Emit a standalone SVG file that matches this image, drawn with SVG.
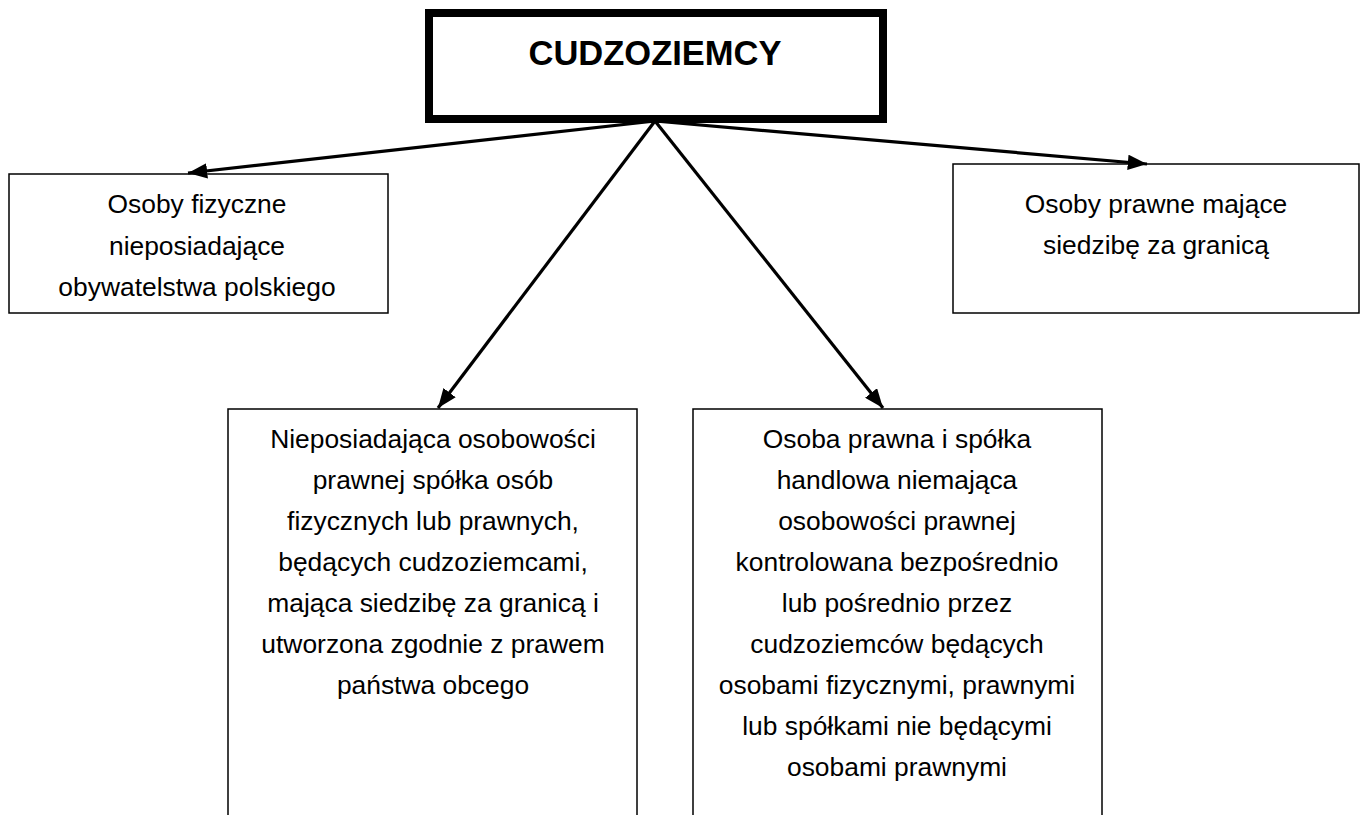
<svg xmlns="http://www.w3.org/2000/svg" width="1365" height="815" viewBox="0 0 1365 815">
<style>
.box{fill:#fff;stroke:#000;stroke-width:1.5}
.title{fill:#fff;stroke:#000;stroke-width:8}
.t{font-family:"Liberation Sans",Arial,sans-serif;font-size:26.4px;fill:#000;text-anchor:middle}
.h{font-family:"Liberation Sans",Arial,sans-serif;font-size:34.5px;font-weight:bold;fill:#000;text-anchor:middle}
.c{stroke:#000;stroke-width:3.2;fill:none;marker-end:url(#ah)}
</style>
<defs>
<marker id="ah" viewBox="0 0 10 8" refX="10" refY="4" markerWidth="6" markerHeight="4.8" orient="auto">
<path d="M0,0 L10,4 L0,8 z" fill="#000"/>
</marker>
</defs>
<rect width="1365" height="815" fill="#fff"/>
<g id="n-root">
<rect class="title" x="429" y="13" width="454" height="106"/>
<text class="h" x="655" y="65">CUDZOZIEMCY</text>
</g>
<g id="n-fizyczne">
<rect class="box" x="9" y="174" width="379" height="139"/>
<text class="t" x="197" y="213">Osoby fizyczne</text>
<text class="t" x="197" y="255">nieposiadające</text>
<text class="t" x="197" y="296">obywatelstwa polskiego</text>
</g>
<g id="n-prawne">
<rect class="box" x="953" y="164" width="406" height="149"/>
<text class="t" x="1156" y="213">Osoby prawne mające</text>
<text class="t" x="1156" y="254">siedzibę za granicą</text>
</g>
<g id="n-spolka">
<rect class="box" x="228" y="409" width="409" height="420"/>
<text class="t" x="433" y="448">Nieposiadająca osobowości</text>
<text class="t" x="433" y="489">prawnej spółka osób</text>
<text class="t" x="433" y="530">fizycznych lub prawnych,</text>
<text class="t" x="433" y="571">będących cudzoziemcami,</text>
<text class="t" x="433" y="612">mająca siedzibę za granicą i</text>
<text class="t" x="433" y="653">utworzona zgodnie z prawem</text>
<text class="t" x="433" y="694">państwa obcego</text>
</g>
<g id="n-kontrolowana">
<rect class="box" x="693" y="409" width="409" height="420"/>
<text class="t" x="897" y="448">Osoba prawna i spółka</text>
<text class="t" x="897" y="489">handlowa niemająca</text>
<text class="t" x="897" y="530">osobowości prawnej</text>
<text class="t" x="897" y="571">kontrolowana bezpośrednio</text>
<text class="t" x="897" y="612">lub pośrednio przez</text>
<text class="t" x="897" y="653">cudzoziemców będących</text>
<text class="t" x="897" y="694">osobami fizycznymi, prawnymi</text>
<text class="t" x="897" y="735">lub spółkami nie będącymi</text>
<text class="t" x="897" y="776">osobami prawnymi</text>
</g>
<g id="connectors">
<line class="c" x1="655" y1="121" x2="188" y2="173"/>
<line class="c" x1="655" y1="121" x2="1147" y2="164"/>
<line class="c" x1="655" y1="121" x2="438" y2="408"/>
<line class="c" x1="655" y1="121" x2="883" y2="408"/>
</g>
</svg>
